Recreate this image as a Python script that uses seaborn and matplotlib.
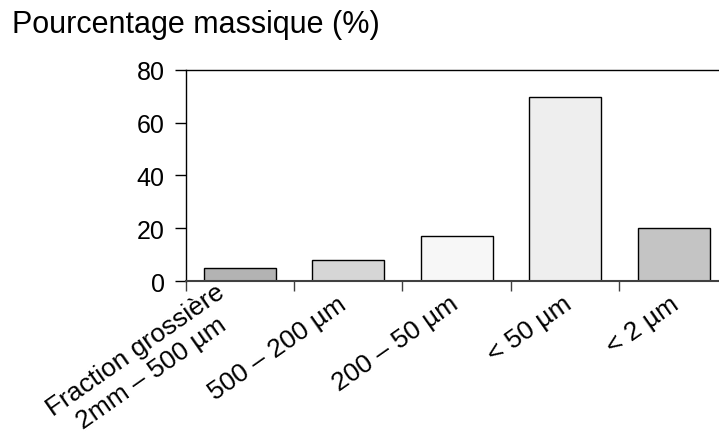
import matplotlib
matplotlib.use("Agg")
import matplotlib.pyplot as plt
import matplotlib.transforms as mtransforms
import seaborn as sns
import pandas as pd
from matplotlib.ticker import FixedLocator

# data
fractions = ["Fraction grossière\n2mm – 500 µm", "500 – 200 µm", "200 – 50 µm",
             "< 50 µm", "< 2 µm"]
mass_pct = [5, 8, 17.2, 69.8, 20]
bar_colors = ["#b3b3b3", "#d6d6d6", "#f7f7f7", "#eeeeee", "#c4c4c4"]
y_ticks = [0, 20, 40, 60, 80]

# small per-label horizontal nudges (px), Excel places shorter rotated labels further right
label_nudge_px = [-10, -5, -1, 4, 3]

df = pd.DataFrame({"fraction": fractions, "pct": mass_pct})

sns.set_style("white")
plt.rcParams["font.family"] = ["Liberation Sans", "DejaVu Sans"]
plt.rcParams["text.color"] = "black"
plt.rcParams["xtick.color"] = "black"
plt.rcParams["ytick.color"] = "black"

fig = plt.figure(figsize=(7.19, 4.39), dpi=100)
# axes runs past the right edge of the picture, as in the reference crop
ax = fig.add_axes([0.258, 0.3565, 0.7545, 0.4829])

sns.barplot(data=df, x="fraction", y="pct", hue="fraction", palette=bar_colors,
            legend=False, width=0.668, edgecolor="black", linewidth=1.0,
            saturation=1, ax=ax)

ax.set_xlim(-0.5, len(fractions) - 0.5)
ax.set_ylim(0, 80)
ax.set_yticks(y_ticks)
ax.set_xlabel("")
ax.set_ylabel("")

for side in ["left", "top", "right"]:
    ax.spines[side].set_color("black")
    ax.spines[side].set_linewidth(1.0)
ax.spines["bottom"].set_color("#404040")
ax.spines["bottom"].set_linewidth(1.5)

ax.tick_params(axis="y", direction="out", length=8, width=1, color="black",
               labelcolor="black", labelsize=18, pad=7, left=True)
ax.xaxis.set_minor_locator(FixedLocator([i - 0.5 for i in range(len(fractions) + 1)]))
ax.tick_params(axis="x", which="major", length=0, labelsize=19, pad=14,
               labelcolor="black")
ax.tick_params(axis="x", which="minor", direction="out", length=7, width=1,
               color="#404040", bottom=True)
ax.set_xticks(range(len(fractions)))
ax.set_xticklabels(fractions, rotation=35, ha="right", va="center",
                   rotation_mode="anchor", multialignment="center")
for lbl, dx in zip(ax.get_xticklabels(), label_nudge_px):
    shift = mtransforms.ScaledTranslation(dx / 100, 0, fig.dpi_scale_trans)
    lbl.set_transform(lbl.get_transform() + shift)

fig.text(12 / 719, 1 - 33 / 439, "Pourcentage massique (%)", fontsize=22,
         color="black", ha="left", va="baseline")

fig.savefig("out.png", dpi=100)
